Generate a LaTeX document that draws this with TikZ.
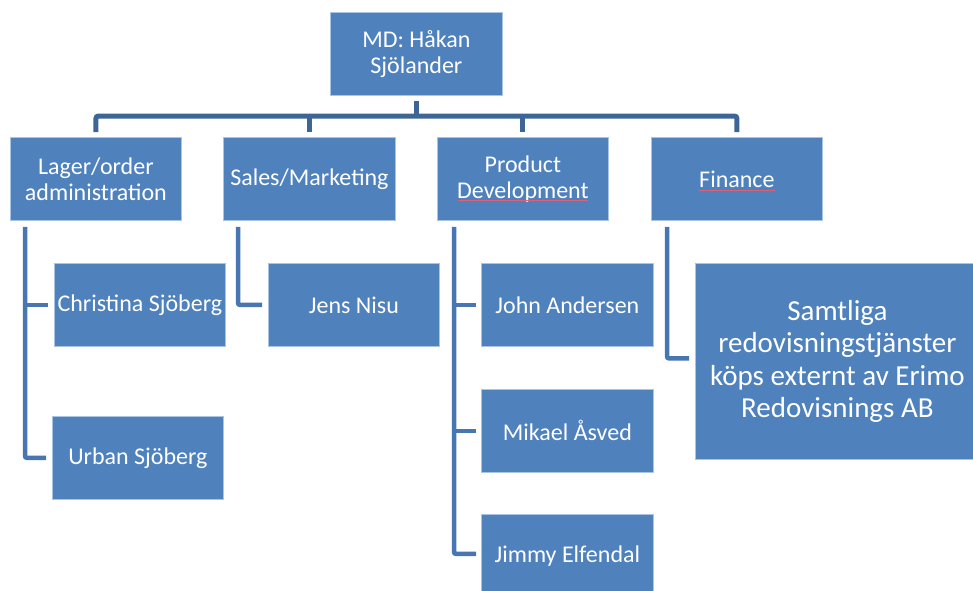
\documentclass[tikz,border=0pt]{standalone}
\usepackage{fontspec}
\setmainfont{Carlito}
\definecolor{boxfill}{RGB}{79,129,189}
\definecolor{boxborder}{RGB}{170,196,228}
\definecolor{busline}{RGB}{61,101,150}
\definecolor{kidline}{RGB}{72,118,178}
\definecolor{spell}{RGB}{222,96,118}
\tikzset{
  orgbox/.style={draw=boxborder, line width=0.8pt, fill=boxfill, text=white,
    anchor=north west, inner sep=0pt, align=center,
    minimum width=171pt, minimum height=83pt,
    font=\fontsize{24}{26}\selectfont},
  bigbox/.style={orgbox, minimum width=284pt, minimum height=196pt,
    font=\fontsize{29}{32.3}\selectfont},
  bus/.style={draw=busline, line width=5pt, rounded corners=2.5pt},
  kid/.style={draw=kidline, line width=4.5pt, rounded corners=2pt},
  spellmark/.style={draw=spell, line width=0.8pt}
}
\begin{document}
\begin{tikzpicture}[x=1pt,y=-1pt]
\useasboundingbox (0,0) rectangle (973,590);
\clip (0,0) rectangle (973,590);

% boxes
\node[orgbox, minimum width=172pt] (md) at (330,12) {MD: Håkan\\Sjölander};
\node[orgbox] (lager) at (10,137) {Lager/order\\administration};
\node[orgbox, minimum width=172pt] (sales) at (223,137) {Sales/Marketing};
\node[orgbox] (prod) at (437,137) {Product\\Development};
\node[orgbox] (fin) at (651,137) {Finance};

\node[orgbox] (chris) at (54,263) {Christina Sjöberg};
\node[orgbox] (urban) at (52,416) {Urban Sjöberg};
\node[orgbox] (jens) at (268,263) {Jens Nisu};
\node[orgbox, minimum width=172pt] (john) at (481,263) {John Andersen};
\node[orgbox, minimum width=172pt] (mikael) at (481,389) {Mikael Åsved};
\node[orgbox, minimum width=172pt] (jimmy) at (481,514) {Jimmy Elfendal};
\node[bigbox] (samt) at (695,263) {Samtliga\\redovisningstjänster\\köps externt av Erimo\\Redovisnings AB};

% top level bus
\coordinate (busy) at (0,116);
\draw[bus] ([yshift=-5pt]md.south) -- (md.south |- busy);
\draw[bus] ([yshift=5pt]lager.north) -- (lager.north |- busy) -- (fin.north |- busy) -- ([yshift=5pt]fin.north);
\draw[bus] ([yshift=5pt]sales.north) -- (sales.north |- busy);
\draw[bus] ([yshift=5pt]prod.north) -- (prod.north |- busy);

% children connectors
\coordinate (ls) at ([xshift=15pt,yshift=-6pt]lager.south west);
\draw[kid] (ls |- chris.west) -- ([xshift=-6pt]chris.west);
\draw[kid] (ls) |- ([xshift=-6pt]urban.west);

\coordinate (ss) at ([xshift=15pt,yshift=-6pt]sales.south west);
\draw[kid] (ss) |- ([xshift=-6pt]jens.west);

\coordinate (ps) at ([xshift=17pt,yshift=-6pt]prod.south west);
\draw[kid] (ps |- john.west) -- ([xshift=-5pt]john.west);
\draw[kid] (ps |- mikael.west) -- ([xshift=-5pt]mikael.west);
\draw[kid] (ps) |- ([xshift=-5pt,yshift=2pt]jimmy.west);

\coordinate (fs) at ([xshift=16pt,yshift=-6pt]fin.south west);
\draw[kid] (fs) |- ([xshift=-6pt,yshift=3pt]samt.west);

% spell-check marks
\draw[spellmark] (458,200) -- (588,200);
\draw[spellmark] (699,190) -- (775,190);
\end{tikzpicture}
\end{document}
